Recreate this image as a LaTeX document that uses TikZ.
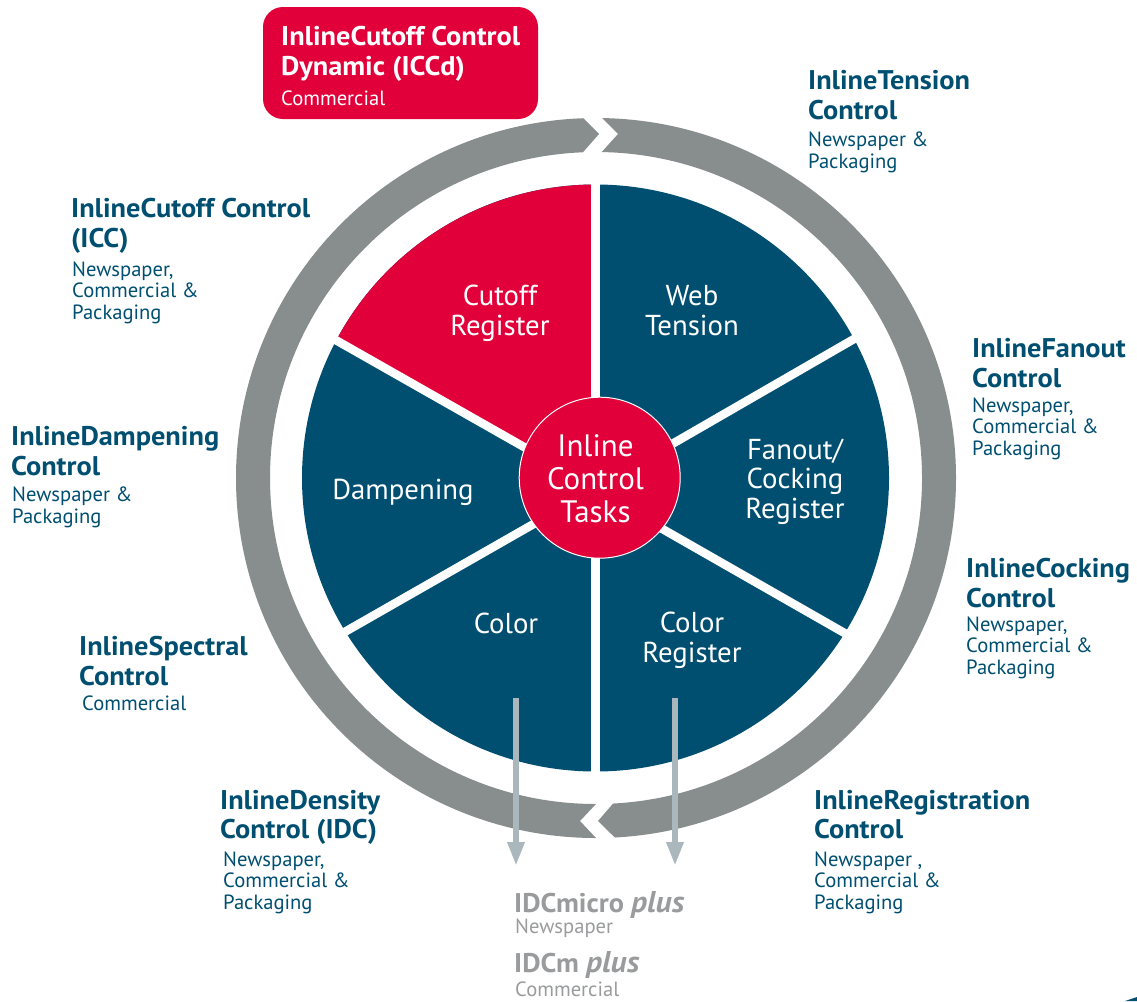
\documentclass[tikz,border=0pt]{standalone}
\usepackage{fontspec}
\setmainfont{PT Sans}[BoldFeatures={FakeStretch=1.05},BoldItalicFeatures={FakeStretch=1.05}]
\usetikzlibrary{arrows.meta}
\definecolor{dblue}{HTML}{004F71}
\definecolor{dred}{HTML}{E1003A}
\definecolor{ringgray}{HTML}{888D8E}
\definecolor{arrowgray}{HTML}{AAB7BD}
\definecolor{txtgray}{HTML}{9A9B9D}
\tikzset{
 x=1pt,y=1pt,
 head/.style={anchor=base west,inner sep=0pt,align=left,text=dblue,font=\fontsize{27}{29.5}\selectfont\bfseries},
 sub/.style={anchor=base west,inner sep=0pt,align=left,text=dblue,font=\fontsize{20.6}{21.5}\selectfont},
 task/.style={anchor=base,inner sep=0pt,align=center,text=white,font=\fontsize{28.8}{29.2}\selectfont},
 ring/.style={fill=ringgray,draw=none},
 gap/.style={draw=white,line width=8.5pt,shorten >=-4pt,shorten <=-12pt},
 down/.style={draw=arrowgray,line width=6pt,-{Triangle[length=24pt,width=16pt]}},
}
\newcommand{\plusword}{{\fontsize{30}{30}\selectfont\itshape plus}}
\begin{document}
\begin{tikzpicture}
\useasboundingbox (0,0) rectangle (1137,-1001);
\coordinate (c) at (596,-478);
\coordinate (d) at (595.5,-478);
\coordinate (hubc) at (599.7,-477.7);
% ring
\fill[ring] ([shift={(89:360)}]c) arc[start angle=89,end angle=-87,radius=360]
  -- (598,-821) -- ([shift={(-87:326)}]c) arc[start angle=-87,end angle=89,radius=326]
  -- (618,-134) -- cycle;
\fill[ring] ([shift={(-90:360)}]c) arc[start angle=-90,end angle=-268,radius=360]
  -- (599,-134) -- ([shift={(92.3:326)}]c) arc[start angle=92.3,end angle=270,radius=326]
  -- (580,-821) -- cycle;
% disc
\fill[dblue] (d) circle[radius=293.5];
\fill[dred] (595.5,-487.6) -- ([shift={(90:293.5)}]d) arc[start angle=90,end angle=152,radius=293.5] -- cycle;
\draw[gap] (673,-443.5) -- (854,-339);
\draw[gap] (662.5,-529) -- (844.5,-633);
\draw[gap] (524,-447) -- (336.5,-340.5);
\draw[gap] (534.5,-523.5) -- (345.5,-631.5);
\draw[draw=white,line width=9pt] ([shift={(90:296)}]d) -- ([shift={(-90:296)}]d);
\node[circle,fill=dred,draw=white,line width=1pt,minimum size=161pt,inner sep=0pt] (hub) at (hubc) {};
\node[task,font=\fontsize{31}{33}\selectfont] (hubtxt) at (595.5,-522) {Inline\\Control\\Tasks};
% wedge labels
\node[task] (web) at (692,-335) {Web\\Tension};
\node[task] (cut) at (500,-335) {Cutoff\\Register};
\node[task] (fan) at (795,-518) {Fanout/\\Cocking\\Register};
\node[task] (dam) at (403,-499) {Dampening};
\node[task] (col) at (506,-633) {Color};
\node[task] (colr) at (692,-662) {Color\\Register};
% arrows
\coordinate (a1s) at (516,-698); \coordinate (a1e) at (516,-866);
\coordinate (a2s) at (675,-698); \coordinate (a2e) at (675,-866);
\draw[down] (a1s) -- (a1e);
\draw[down] (a2s) -- (a2e);
% ICCd box
\node[fill=dred,rounded corners=20pt,minimum width=275pt,minimum height=112pt,inner sep=0pt] (box) at (400.5,-63) {};
\node[head,text=white] (iccd) at (281,-75) {InlineCutoff Control\\Dynamic (ICCd)};
\node[sub,text=white] (iccds) at (281,-105) {Commercial};
% labels
\node[head] (h1) at (808,-119) {InlineTension\\Control};
\node[sub] (s1) at (808,-168) {Newspaper \&\\Packaging};
\node[head] (h2) at (71,-247) {InlineCutoff Control\\(ICC)};
\node[sub] (s2) at (72,-319) {Newspaper,\\Commercial \&\\Packaging};
\node[head] (h3) at (972,-387) {InlineFanout\\Control};
\node[sub] (s3) at (972,-455) {Newspaper,\\Commercial \&\\Packaging};
\node[head] (h4) at (966,-607) {InlineCocking\\Control};
\node[sub] (s4) at (966,-674) {Newspaper,\\Commercial \&\\Packaging};
\node[head] (h5) at (11,-475) {InlineDampening\\Control};
\node[sub] (s5) at (12,-523) {Newspaper \&\\Packaging};
\node[head] (h6) at (79,-685) {InlineSpectral\\Control};
\node[sub] (s6) at (82,-710) {Commercial};
\node[head] (h7) at (220,-838.5) {InlineDensity\\Control (IDC)};
\node[sub] (s7) at (223,-909) {Newspaper,\\Commercial \&\\Packaging};
\node[head] (h8) at (814,-838.5) {InlineRegistration\\Control};
\node[sub] (s8) at (814,-909) {Newspaper ,\\Commercial \&\\Packaging};
\node[head,text=txtgray] (p1) at (514,-912) {IDCmicro \plusword};
\node[sub,text=txtgray] (p1s) at (515,-933) {Newspaper};
\node[head,text=txtgray] (p2) at (514,-972) {IDCm \plusword};
\node[sub,text=txtgray] (p2s) at (515,-996) {Commercial};
% corner sliver
\fill[dblue] (1125,-1001) -- (1137,-997) -- (1137,-1001) -- cycle;
\end{tikzpicture}
\end{document}
